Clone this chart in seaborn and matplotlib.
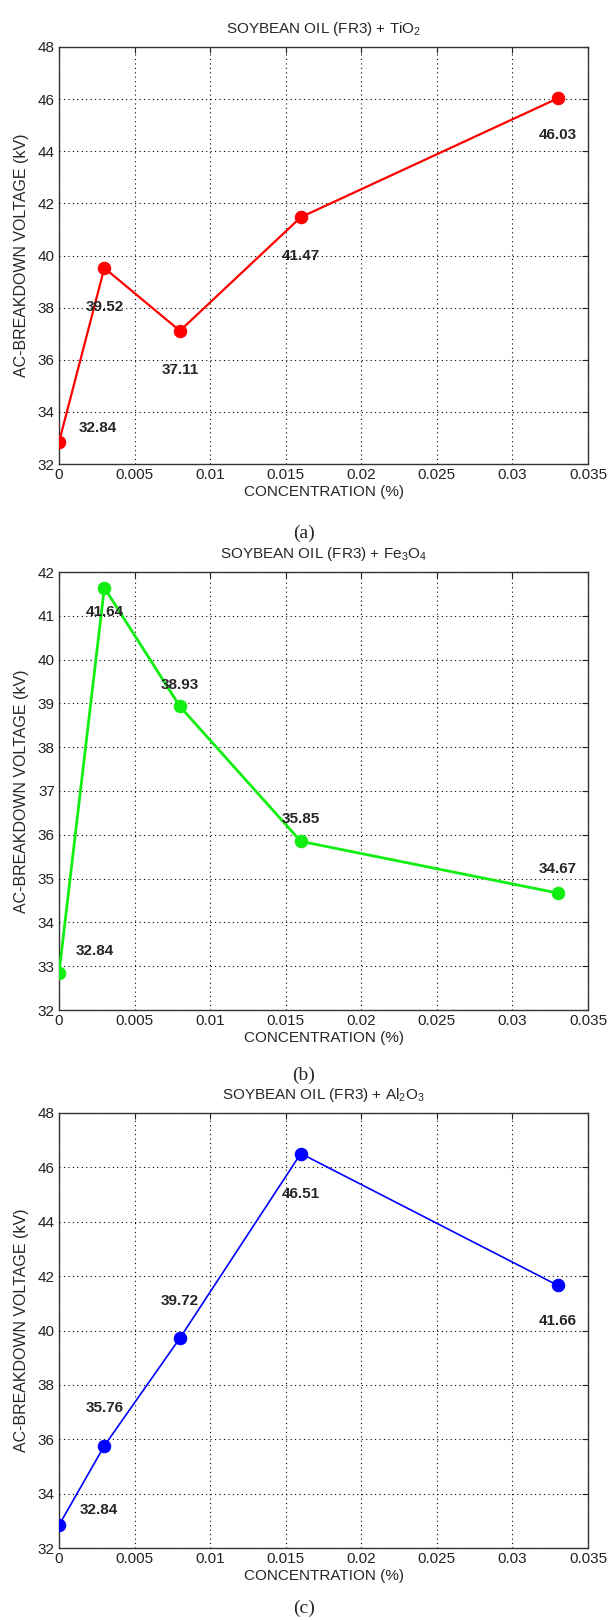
import numpy as np
import pandas as pd
import matplotlib
matplotlib.use("Agg")
import matplotlib.pyplot as plt
import seaborn as sns

# concentration (%) shared by all three oils
concentration = [0.0, 0.003, 0.008, 0.016, 0.033]

tio2_kv = [32.84, 39.52, 37.11, 41.47, 46.03]
fe3o4_kv = [32.84, 41.64, 38.93, 35.85, 34.67]
al2o3_kv = [32.84, 35.76, 39.72, 46.51, 41.66]

titles = [r"SOYBEAN OIL (FR3) + TiO$_2$",
          r"SOYBEAN OIL (FR3) + Fe$_3$O$_4$",
          r"SOYBEAN OIL (FR3) + Al$_2$O$_3$"]
captions = ["(a)", "(b)", "(c)"]
colors = ["#ff0000", "#11ee11", "#0000ff"]
line_widths = [1.6, 2.0, 1.2]
ylims = [(32, 48, 2), (32, 42, 1), (32, 48, 2)]

# label offsets (dx, dy in data units, horizontal alignment) per point
label_offsets = [
    [(0.0013, 0.55, "left"), (0.0, -1.5, "center"), (0.0, -1.5, "center"),
     (0.0, -1.5, "center"), (0.0, -1.4, "center")],
    [(0.0011, 0.5, "left"), (0.0, -0.55, "center"), (0.0, 0.5, "center"),
     (0.0, 0.5, "center"), (0.0, 0.55, "center")],
    [(0.0014, 0.55, "left"), (0.0, 1.4, "center"), (0.0, 1.35, "center"),
     (0.0, -1.5, "center"), (0.0, -1.3, "center")],
]

sns.set_style("white")
plt.rcParams["font.family"] = ["Liberation Sans", "DejaVu Sans"]
plt.rcParams["mathtext.fontset"] = "custom"
plt.rcParams["mathtext.rm"] = "Liberation Sans"
plt.rcParams["mathtext.it"] = "Liberation Sans"

W, H = 608, 1620
fig = plt.figure(figsize=(W / 100, H / 100), dpi=100)

# axes boxes in pixels: left, top, right, bottom
boxes = [(59, 47, 588, 464), (59, 572, 588, 1010), (59, 1113, 588, 1548)]
caption_y = [533, 1075, 1608]

series = [tio2_kv, fe3o4_kv, al2o3_kv]
for i, vals in enumerate(series):
    l, t, r, b = boxes[i]
    ax = fig.add_axes([l / W, 1 - b / H, (r - l) / W, (b - t) / H])
    df = pd.DataFrame({"conc": concentration, "kv": vals})
    sns.lineplot(data=df, x="conc", y="kv", ax=ax, color=colors[i],
                 marker="o", markersize=9, markeredgecolor=colors[i],
                 linewidth=line_widths[i], zorder=3)
    lo, hi, step = ylims[i]
    ax.set_ylim(lo, hi)
    ax.set_yticks(np.arange(lo, hi + step / 2, step))
    xt = np.round(np.arange(0, 0.0351, 0.005), 3)
    ax.set_xlim(0, 0.035)
    ax.set_xticks(xt)
    ax.set_xticklabels(["%g" % v for v in xt])
    ax.grid(True, linestyle=(0, (1, 3)), color="black", linewidth=0.8)
    ax.tick_params(direction="in", top=True, right=True, length=4,
                   labelsize=11, colors="#222222", pad=3)
    for s in ax.spines.values():
        s.set_color("#333333")
        s.set_linewidth(1.0)
    ax.set_xlabel("CONCENTRATION (%)", fontsize=11, labelpad=2)
    ax.set_ylabel("AC-BREAKDOWN VOLTAGE (kV)", fontsize=11.5, labelpad=6)
    ax.set_title(titles[i], fontsize=11, pad=10)
    for (xv, yv, (dx, dy, ha)) in zip(concentration, vals, label_offsets[i]):
        ax.text(xv + dx, yv + dy, "%.2f" % yv, ha=ha, va="center",
                fontsize=11, fontweight="bold", zorder=4)
    fig.text(0.5, 1 - caption_y[i] / H, captions[i], ha="center", va="center",
             fontsize=14, family=["Liberation Serif", "DejaVu Serif"])

fig.savefig("out.png", dpi=100, facecolor="white")
